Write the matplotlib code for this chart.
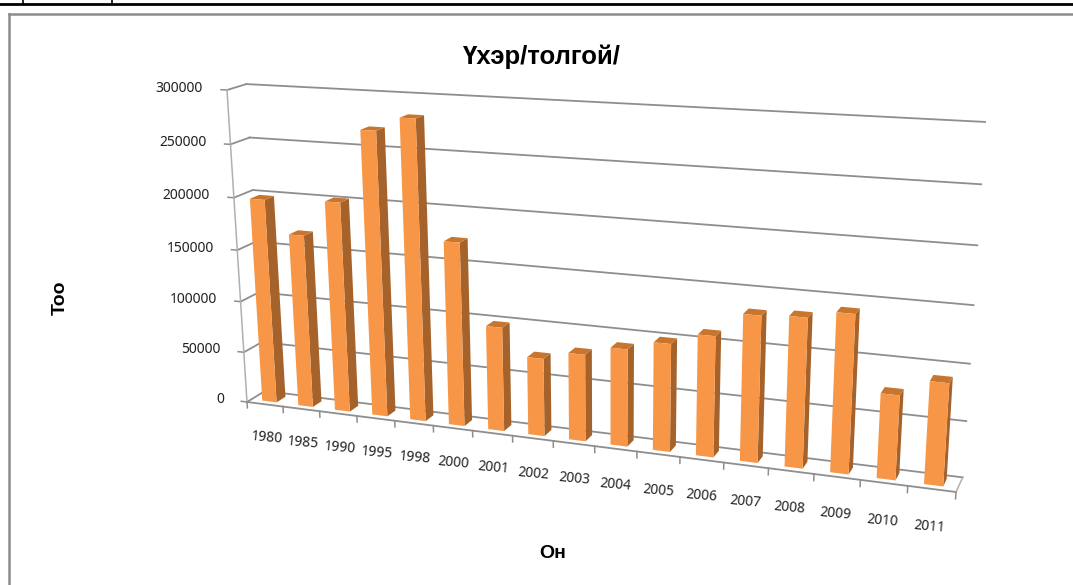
import numpy as np
import matplotlib
matplotlib.use('Agg')
import matplotlib.pyplot as plt
from matplotlib.lines import Line2D
from mpl_toolkits.mplot3d import proj3d

years = ['1980', '1985', '1990', '1995', '1998', '2000', '2001', '2002', '2003',
         '2004', '2005', '2006', '2007', '2008', '2009', '2010', '2011']
cattle = [198000, 167000, 201000, 269000, 282000, 173000, 98000, 73000, 81000,
          90000, 99000, 110000, 132000, 134000, 141000, 75000, 90000]
y_ticks = [0, 50000, 100000, 150000, 200000, 250000, 300000]

W, H = 1073, 585
plt.rcParams['font.family'] = ['Noto Sans', 'DejaVu Sans']

fig = plt.figure(figsize=(W / 100, H / 100), dpi=100)

# axes is a square as wide as the figure, centred, so nothing gets clipped
ax = fig.add_axes([0, (H - W) / 2 / H, 1, W / H], projection='3d', computed_zorder=False)
ax.set_axis_off()
ax.patch.set_visible(False)
ax.apply_aspect()

n = len(years)
zmax = y_ticks[-1]

# where the box corners sit in the picture, pixels from top left
O = np.array([247, 402.])    # front left bottom
X = np.array([956, 492.])    # front right bottom
Y = np.array([265, 391.])    # back left bottom
Z = np.array([227, 90.])     # front left top
others = [((0, 1, 1), (249, 84.)), ((1, 1, 0), (963, 476.)), ((1, 1, 1), (985, 122.))]

# camera: w = 1 + p*x + q*y + r*z, solved from the remaining corners
A, b = [], []
for (i, j, k), T in others:
    T = np.array(T)
    A.extend(np.c_[i * (X - T), j * (Y - T), k * (Z - T)])
    b.extend(T - O * (1 - i - j - k) - i * X - j * Y - k * Z)
p, q, r = np.linalg.lstsq(np.array(A), np.array(b), rcond=None)[0]
cols = [X * (1 + p) - O, Y * (1 + q) - O, Z * (1 + r) - O, O]
P = np.array([[c[0] for c in cols], [c[1] for c in cols], [p, q, r, 1]])

# picture pixels -> the 2D view limits of the 3d axes
inv = ax.transData.inverted()
o = inv.transform((0, H))
ex = inv.transform((1, H)) - o
ey = inv.transform((0, H - 1)) - o
P = np.array([[ex[0], 0, o[0]], [0, ey[1], o[1]], [0, 0, 1]]) @ P
# depth row must stay negative, Line3D turns points with tz > 0 into nan
M = np.vstack([P[0], P[1], [-0.2, 0.2, -0.04, -0.5], P[2]]) @ np.diag([1 / n, 1, 1 / zmax, 1])
ax.get_proj = lambda: M


def label(x, y, z, s, **kw):
    # place text at its projected spot, so it stays a plain 2D text
    u, v, _ = proj3d.proj_transform(x, y, z, M)
    ax.text2D(u, v, s, transform=ax.transData, fontsize=10, color='#222222', **kw)


GRID = '#8e8e8e'
AXIS = '#b0b0b0'
for v in y_ticks:
    ax.plot([0, 0], [0, 1], [v, v], color=GRID, lw=1.3, zorder=1)
    ax.plot([0, n], [1, 1], [v, v], color=GRID, lw=1.3, zorder=1)
    ax.plot([-0.16, 0], [0, 0], [v, v], color=GRID, lw=1.1, zorder=1)
    label(-0.65, 0, v, str(v), ha='right', va='center')

ax.plot([0, 0], [0, 0], [0, zmax], color=AXIS, lw=1.1, zorder=1)
ax.plot([0, n], [0, 0], [0, 0], color=GRID, lw=1.3, zorder=1)
ax.plot([n, n], [0, 1], [0, 0], color=AXIS, lw=1.1, zorder=1)

for i in range(n + 1):
    ax.plot([i, i], [0, 0], [0, -6000], color=GRID, lw=1.1, zorder=1)
for i, year in enumerate(years):
    label(i + 0.5, 0, -34000, year, ha='center', va='center',
          rotation=-5, rotation_mode='anchor')

# faces in bar3d order: bottom, top, front, back, left, right
hidden = (0, 0, 0, 0)
face_colors = [hidden, '#c8762e', '#f79646', hidden, hidden, '#a5622b'] * n
ax.bar3d(np.arange(n) + 0.3, np.full(n, 0.25), np.zeros(n), 0.4, 0.5, cattle,
         color=face_colors, shade=False, linewidth=0, zorder=2)

bold = ['Liberation Sans', 'DejaVu Sans']
fig.text(542 / W, 1 - 57 / H, 'Үхэр/толгой/', ha='center', va='center', fontsize=18.5,
         fontweight='bold', family=bold)
fig.text(60 / W, 1 - 298 / H, 'Тоо', ha='center', va='center', rotation=90, fontsize=14,
         fontweight='bold', family=bold)
fig.text(553 / W, 1 - 553 / H, 'Он', ha='center', va='center', fontsize=14,
         fontweight='bold', family=bold)


# table rule above the chart and the chart frame
def px_line(xs, ys, color, lw):
    fig.add_artist(Line2D(np.array(xs) / W, 1 - np.array(ys) / H, color=color, lw=lw))


px_line([0, W], [4, 4], 'black', 2)
px_line([23, 23], [0, 4], 'black', 1.2)
px_line([112, 112], [0, 4], 'black', 1.2)
px_line([9, W], [13.5, 13.5], '#8c8c8c', 1.8)
px_line([9, 9], [13.5, H], '#8c8c8c', 1.8)

fig.savefig('out.png', dpi=100)
